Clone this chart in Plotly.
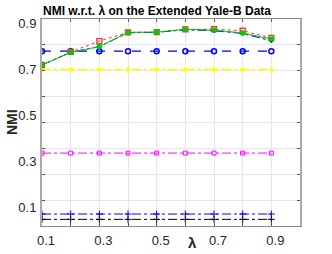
import numpy as np
import plotly.graph_objects as go

lam = [0.1, 0.2, 0.3, 0.4, 0.5, 0.6, 0.7, 0.8, 0.9]

red_sq = [0.72, 0.777, 0.824, 0.862, 0.863, 0.875, 0.876, 0.869, 0.838]
green_sq = [0.72, 0.775, 0.800, 0.862, 0.863, 0.875, 0.872, 0.859, 0.833]
blue_dd = [0.72, 0.775, 0.800, 0.860, 0.862, 0.873, 0.869, 0.857, 0.825]
blue_circ = [0.78] * 9
yellow = [0.70] * 9
magenta = [0.337] * 9
blue_plus = [0.072] * 9
black_plus = [0.049] * 9

x_ticks = [0.1, 0.3, 0.5, 0.7, 0.9]
y_ticks = [0.1, 0.3, 0.5, 0.7, 0.9]
x_range = [0.1, 1.0]
y_range = [0.02, 0.92]

# plot-area geometry in pixels
L, R, T, B = 42, 300, 19, 226
W, H = R - L, B - T

fig = go.Figure()

def add(y, color, dash, symbol, size, width=1.0, mlw=1.0):
    fig.add_trace(go.Scatter(
        x=lam, y=y, mode="lines+markers",
        line=dict(color=color, dash=dash, width=width),
        marker=dict(symbol=symbol, size=size, color=color,
                    line=dict(color=color, width=mlw)),
        showlegend=False))

add(black_plus, "#000000", "dashdot", "cross-thin-open", 5)
add(blue_plus, "#0000ff", "dashdot", "cross-thin-open", 5)
add(magenta, "#ff00ff", "dashdot", "square-open", 4)
add(yellow, "#ffff00", "dashdot", "square", 3, 1.5, 1.0)
add(blue_circ, "#0000ff", "dash", "circle-open", 5, 1.3, 1.5)
add(red_sq, "#ff3333", "dot", "square-open", 5, 1.0, 1.3)
add(blue_dd, "#0000ff", "dashdot", "circle", 3)
add(green_sq, "#00cc00", "solid", "square", 4)

grid_y = list(np.linspace(y_range[0], y_range[1], 9)[1:-1])
grid_x = [0.2, 0.4, 0.6, 0.8, 1.0]

axis_font = dict(family="Liberation Sans, Arial", size=13, color="#262626")

fig.update_layout(
    width=332, height=254,
    margin=dict(l=L, r=332 - R, t=T, b=254 - B),
    paper_bgcolor="white", plot_bgcolor="white",
    title=dict(text="<b>NMI w.r.t. λ on the Extended Yale-B Data</b>",
               x=157 / 332, xanchor="center", y=1 - 11 / 254, yanchor="middle",
               xref="container", yref="container",
               font=dict(family="Liberation Sans, Arial", size=12, color="#000000")),
    xaxis=dict(range=x_range, tickvals=x_ticks, ticktext=[str(v) for v in x_ticks],
               showgrid=True, gridcolor="#e6e6e6", gridwidth=1,
               ticks="inside", ticklen=3, tickcolor="#555555",
               minor=dict(tickvals=grid_x, showgrid=True, gridcolor="#e6e6e6",
                          ticks="inside", ticklen=3, tickcolor="#555555"),
               showline=True, linecolor="#888888", linewidth=1, mirror="ticks",
               tickfont=axis_font, zeroline=False, ticklabelstandoff=2,
               ticklabelshift=4, automargin=False),
    yaxis=dict(range=y_range, tickvals=y_ticks, ticktext=[str(v) for v in y_ticks],
               showgrid=False, ticks="",
               minor=dict(tickvals=grid_y, showgrid=True, gridcolor="#e6e6e6",
                          ticks="inside", ticklen=3, tickcolor="#555555"),
               showline=True, linecolor="#aaaaaa", linewidth=2, mirror="ticks",
               tickfont=axis_font, zeroline=False, ticklabelstandoff=1,
               automargin=False),
    annotations=[
        dict(text="<b>NMI</b>", x=-(L - 12) / W, y=(B - 122) / H,
             xref="paper", yref="paper", xanchor="center", yanchor="middle",
             showarrow=False, textangle=-90,
             font=dict(family="Liberation Sans, Arial", size=14, color="#262626")),
        dict(text="<b>λ</b>", x=(192 - L) / W, y=-(243 - B) / H,
             xref="paper", yref="paper", xanchor="center", yanchor="middle",
             showarrow=False,
             font=dict(family="Liberation Sans, Arial", size=15, color="#262626")),
    ],
)

fig.write_html("out.html",
               config={"displayModeBar": False, "staticPlot": True},
               post_script="document.body.style.margin='0';document.body.style.padding='0';")
